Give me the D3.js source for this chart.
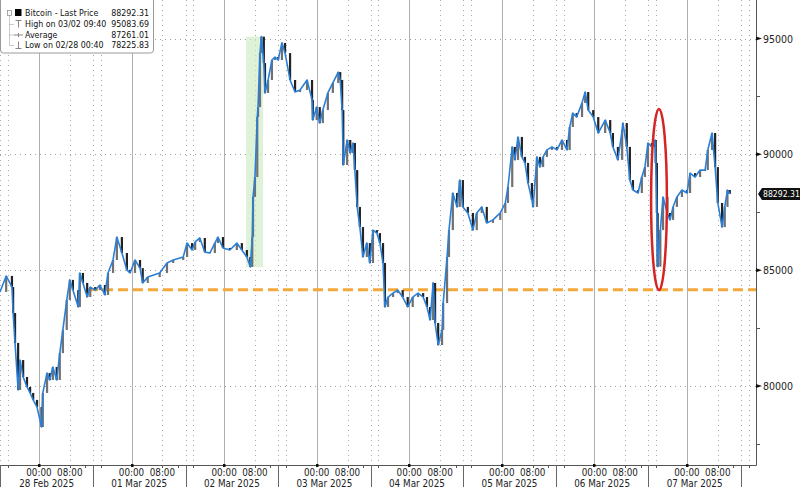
<!DOCTYPE html>
<html><head><meta charset="utf-8">
<script src="https://cdn.jsdelivr.net/npm/d3@7"></script>
<style>
body{margin:0;background:#fff;}
svg{display:block;font-family:"DejaVu Sans Condensed","DejaVu Sans",sans-serif;}
</style>
</head><body>
<svg id="chart" width="800" height="487"></svg>
<script>
// ---- data (hours since 28 Feb 2025 00:00, Bitcoin last price) ----
const hours = [-10.1,-8.5,-7.0,-6.7,-6.2,-5.4,-4.9,-4.1,-3.1,-2.3,-1.5,-0.5,0.67,1.0,2.1,2.8,3.6,4.6,5.4,6.2,7.2,8.0,8.8,10.2,10.6,11.4,12.5,13.3,14.6,15.8,17.1,17.9,19.2,20.2,21.5,22.8,23.6,24.9,26.2,26.9,28.2,31.3,33.2,34.8,37.4,38.4,39.7,40.5,41.7,43.0,44.3,45.6,46.4,47.7,49.5,51.3,52.6,53.9,54.8,55.3,55.5,56.0,56.6,56.8,57.3,57.67,58.3,58.6,59.4,60.4,61.2,62.0,63.0,63.8,65.1,66.4,67.7,69.5,70.8,71.0,72.0,72.8,73.6,74.9,76.2,77.6,78.1,78.6,78.9,79.9,80.7,81.4,81.9,82.5,83.2,84.0,85.0,85.8,86.6,87.6,88.4,89.2,89.7,90.5,91.8,93.0,94.3,95.6,96.9,98.3,99.6,100.6,101.4,102.2,102.7,103.5,104.5,104.8,105.8,106.3,107.3,108.4,109.1,109.9,111.2,112.5,113.5,114.8,116.1,117.7,119.6,120.9,121.6,122.7,123.4,124.2,125.2,126.0,126.8,127.8,128.1,129.1,129.9,130.7,131.7,133.0,134.3,135.6,136.9,137.6,138.4,139.4,140.8,141.6,142.4,143.7,145.0,146.8,148.1,148.8,150.1,151.2,151.4,152.4,153.2,154.0,155.3,156.3,157.1,157.9,158.9,159.7,159.9,160.2,160.4,161.1,161.8,162.9,163.6,164.4,165.4,166.7,168.0,168.8,170.1,171.4,172.7,173.4,174.5,175.3,176.0,177.1,177.8,178.5,179.1];
const closes = [84060,84750,84270,83150,81860,79830,81120,80390,79960,79700,79400,79090,78230,79700,80560,80260,80820,80260,81420,82420,83710,84580,84140,83410,84880,84450,83840,84270,84140,84360,83930,84880,85440,86430,85740,85010,84880,85440,85090,84450,84700,84880,85310,85440,85570,86170,85870,86220,86390,85780,85740,86170,86430,85960,85870,86170,85870,85570,85140,86430,88160,89020,91610,92040,94370,95080,93940,92650,93210,94070,94200,94070,94810,94370,93210,92690,92780,93210,92350,91480,92040,91350,91910,92650,93080,93550,93210,91910,89540,90620,90060,90490,89320,87730,86860,85570,86170,85310,86730,86600,86170,85310,83410,83840,84010,84140,83840,83410,83840,84010,83840,83410,82850,84450,82720,81770,82420,83580,85570,86730,88330,87730,88890,87730,87470,86730,87470,87730,87040,87170,87470,87900,88590,90320,89760,90750,89890,89630,88760,88030,87730,89890,89450,89890,90190,90320,90190,90620,90190,91180,91780,91610,92220,92690,91910,91610,90920,91480,90920,90320,89760,91050,91350,90320,88890,88460,88330,89020,89450,90490,90320,90620,89630,87470,85150,86730,88160,87470,87170,87730,88160,88460,88330,89190,89020,89320,89320,90190,90920,89450,87900,86860,87730,88460,88292];
const dayLabels = ["28 Feb 2025","01 Mar 2025","02 Mar 2025","03 Mar 2025","04 Mar 2025","05 Mar 2025","06 Mar 2025","07 Mar 2025"];
const timeTickLabels = ["00:00","08:00"];
const yTicks = [80000,85000,90000,95000];
const legendLabels = ["Bitcoin - Last Price","High on 03/02 09:40","Average","Low on 02/28 00:40"];
const legendValues = ["88292.31","95083.69","87261.01","78225.83"];
const lastPrice = 88292.31;
const supportLevel = 84150;
const supportStart = 12.7;
const highlightWindow = [53.7, 58.1];
const highlightRange = [85140, 95080];
const ellipseWindow = [158.7, 162.8];
const ellipseRange = [84140, 91960];

// ---- setup ----
const W = 800, H = 487, plotR = 756, plotB = 465;
const t0 = new Date(2025, 1, 28, 0, 0);
const toDate = h => new Date(t0.getTime() + h * 3600e3);
const x = d3.scaleTime().domain([toDate(-10.1), toDate(185.9)]).range([0, plotR]);
const y = d3.scaleLinear().domain([76590, 96662]).range([plotB, 0]);
const svg = d3.select("#chart");
const data = hours.map((h, i) => ({t: toDate(h), v: closes[i]}));

const g = svg.append("g");
svg.append("defs").append("clipPath").attr("id", "clip")
  .append("rect").attr("x", 0).attr("y", 0).attr("width", plotR).attr("height", plotB);

// horizontal dotted gridlines
g.selectAll(".hg").data(yTicks).join("line")
  .attr("x1", 0).attr("x2", plotR)
  .attr("y1", d => Math.round(y(d)) + 0.5).attr("y2", d => Math.round(y(d)) + 0.5)
  .attr("stroke", "#a0a0a0").attr("stroke-dasharray", "1,4");

// vertical gridlines
const dayIdx = d3.range(-1, 8);
const dotted = [];
dayIdx.forEach(k => [8, 14, 16].forEach(o => dotted.push(24 * k + o)));
g.selectAll(".vd").data(dotted.filter(h => x(toDate(h)) > 0 && x(toDate(h)) < plotR)).join("line")
  .attr("x1", h => Math.round(x(toDate(h))) + 0.5).attr("x2", h => Math.round(x(toDate(h))) + 0.5)
  .attr("y1", 0).attr("y2", plotB)
  .attr("stroke", "#a8a8a8").attr("stroke-dasharray", "1,4");
g.selectAll(".vs").data(d3.range(0, 8)).join("line")
  .attr("x1", k => Math.round(x(toDate(24 * k))) + 0.5).attr("x2", k => Math.round(x(toDate(24 * k))) + 0.5)
  .attr("y1", 0).attr("y2", plotB)
  .attr("stroke", "#b0b0b0").attr("stroke-width", 1);

// highlight rect
g.append("rect")
  .attr("x", x(toDate(highlightWindow[0])))
  .attr("width", x(toDate(highlightWindow[1])) - x(toDate(highlightWindow[0])))
  .attr("y", y(highlightRange[1]))
  .attr("height", y(highlightRange[0]) - y(highlightRange[1]))
  .attr("fill", "#cdebc2").attr("opacity", 0.65);

// candles
const pc = svg.append("g").attr("clip-path", "url(#clip)");
pc.selectAll(".cd").data(data.slice(1)).join("rect")
  .attr("x", (d) => x(d.t) - 1.1).attr("width", 2.2)
  .attr("y", (d, i) => y(Math.max(d.v, data[i].v)))
  .attr("height", (d, i) => Math.max(1, Math.abs(y(d.v) - y(data[i].v))))
  .attr("fill", (d, i) => d.v >= data[i].v ? "#707070" : "#222");

// price line
pc.append("path").datum(data)
  .attr("d", d3.line().x(d => x(d.t)).y(d => y(d.v)))
  .attr("fill", "none").attr("stroke", "#2a7fd8").attr("stroke-width", 1.6)
  .attr("stroke-linejoin", "round");

// support dashed line
g.append("line")
  .attr("x1", x(toDate(supportStart))).attr("x2", plotR)
  .attr("y1", y(supportLevel)).attr("y2", y(supportLevel))
  .attr("stroke", "#f2a93b").attr("stroke-width", 3).attr("stroke-dasharray", "10,5");

// ellipse
const ex0 = x(toDate(ellipseWindow[0])), ex1 = x(toDate(ellipseWindow[1]));
svg.append("ellipse")
  .attr("cx", (ex0 + ex1) / 2).attr("rx", (ex1 - ex0) / 2)
  .attr("cy", (y(ellipseRange[0]) + y(ellipseRange[1])) / 2)
  .attr("ry", (y(ellipseRange[0]) - y(ellipseRange[1])) / 2)
  .attr("fill", "none").attr("stroke", "#d42424").attr("stroke-width", 2.5);

// axes lines
svg.append("line").attr("x1", plotR + 0.5).attr("x2", plotR + 0.5).attr("y1", 0).attr("y2", plotB + 0.5)
  .attr("stroke", "#555");
svg.append("line").attr("x1", 0).attr("x2", plotR + 0.5).attr("y1", plotB + 0.5).attr("y2", plotB + 0.5)
  .attr("stroke", "#555");

// right axis ticks
const minorY = d3.range(77500, 96000, 2500).filter(v => !yTicks.includes(v));
svg.selectAll(".my").data(minorY).join("line")
  .attr("x1", plotR).attr("x2", plotR + 4)
  .attr("y1", d => Math.round(y(d)) + 0.5).attr("y2", d => Math.round(y(d)) + 0.5)
  .attr("stroke", "#555");
svg.selectAll(".mjy").data(yTicks).join("path")
  .attr("d", d => `M${plotR},${y(d) - 2}L${plotR + 6},${y(d)}L${plotR},${y(d) + 2}Z`)
  .attr("fill", "#111");
svg.selectAll(".yl").data(yTicks).join("text")
  .attr("x", plotR + 7).attr("y", d => y(d) + 4)
  .attr("font-size", 10.5).attr("fill", "#222").text(d => d);

// last price tag
const ly = y(lastPrice);
svg.append("path")
  .attr("d", `M${plotR + 2},${ly}L${plotR + 6},${ly - 6}L800,${ly - 6}L800,${ly + 6}L${plotR + 6},${ly + 6}Z`)
  .attr("fill", "#111");
svg.append("text").attr("x", plotR + 7).attr("y", ly + 3.3)
  .attr("font-size", 8.6).attr("fill", "#fff").text(lastPrice.toFixed(2));

// bottom axis ticks & labels
const minorX = [];
dayIdx.forEach(k => [8, 12, 16].forEach(o => minorX.push(24 * k + o)));
svg.selectAll(".mx").data(minorX.filter(h => x(toDate(h)) > 0 && x(toDate(h)) < plotR)).join("line")
  .attr("x1", h => Math.round(x(toDate(h))) + 0.5).attr("x2", h => Math.round(x(toDate(h))) + 0.5)
  .attr("y1", plotB).attr("y2", plotB + 3).attr("stroke", "#555");
svg.selectAll(".jx").data(d3.range(0, 8)).join("rect")
  .attr("x", k => Math.round(x(toDate(24 * k))) - 1).attr("width", 2.5)
  .attr("y", plotB - 1).attr("height", 3).attr("fill", "#111");
svg.selectAll(".sep").data(dayIdx.map(k => 24 * k + 14).filter(h => x(toDate(h)) > 0 && x(toDate(h)) < plotR)).join("line")
  .attr("x1", h => Math.round(x(toDate(h))) + 0.5).attr("x2", h => Math.round(x(toDate(h))) + 0.5)
  .attr("y1", plotB).attr("y2", H).attr("stroke", "#666");
const tl = [];
d3.range(0, 8).forEach(k => timeTickLabels.forEach((s, j) => tl.push({h: 24 * k + 8 * j, s})));
svg.selectAll(".tl").data(tl).join("text")
  .attr("x", d => x(toDate(d.h))).attr("y", 476)
  .attr("text-anchor", "middle").attr("font-size", 9.8).attr("fill", "#222").text(d => d.s);
svg.selectAll(".dl").data(dayLabels).join("text")
  .attr("x", (d, k) => x(toDate(24 * k + 2))).attr("y", 486.5)
  .attr("text-anchor", "middle").attr("font-size", 9.8).attr("fill", "#222").text(d => d);

// legend
const lg = svg.append("g");
lg.append("rect").attr("x", 0.5).attr("y", -3).attr("width", 153).attr("height", 56).attr("rx", 3)
  .attr("fill", "#fff").attr("stroke", "#9a9a9a");
const rowY = [13, 24, 34.5, 45];
lg.append("rect").attr("x", 7.5).attr("y", 10.5).attr("width", 4).attr("height", 5).attr("fill", "none").attr("stroke", "#888").attr("stroke-width", 0.7);
lg.append("line").attr("x1", 9.5).attr("x2", 9.5).attr("y1", 15.5).attr("y2", rowY[3]).attr("stroke", "#999").attr("stroke-dasharray", "1,1");
rowY.slice(1).forEach(ry => lg.append("line").attr("x1", 9.5).attr("x2", 14).attr("y1", ry + 0.5).attr("y2", ry + 0.5).attr("stroke", "#999").attr("stroke-dasharray", "1,1"));
lg.append("rect").attr("x", 15).attr("y", 9).attr("width", 6.5).attr("height", 7).attr("fill", "#000");
lg.append("path").attr("d", `M15.5,${rowY[1] - 3.5}H21.5M18.5,${rowY[1] - 3.5}V${rowY[1] + 3.5}`).attr("stroke", "#888").attr("fill", "none");
lg.append("path").attr("d", `M14,${rowY[2] + 0.5}H23M18.5,${rowY[2] - 1.5}V${rowY[2] + 2.5}`).attr("stroke", "#888").attr("fill", "none");
lg.append("path").attr("d", `M15.5,${rowY[3] + 3.5}H21.5M18.5,${rowY[3] - 3.5}V${rowY[3] + 3.5}`).attr("stroke", "#888").attr("fill", "none");
lg.selectAll(".ll").data(legendLabels).join("text")
  .attr("x", 25).attr("y", (d, i) => rowY[i] + 3.3)
  .attr("font-size", 8.8).attr("fill", "#111").text(d => d);
lg.selectAll(".lv").data(legendValues).join("text")
  .attr("x", 149).attr("y", (d, i) => rowY[i] + 3.3).attr("text-anchor", "end")
  .attr("font-size", 8.8).attr("fill", "#111").text(d => d);
</script>
</body></html>
